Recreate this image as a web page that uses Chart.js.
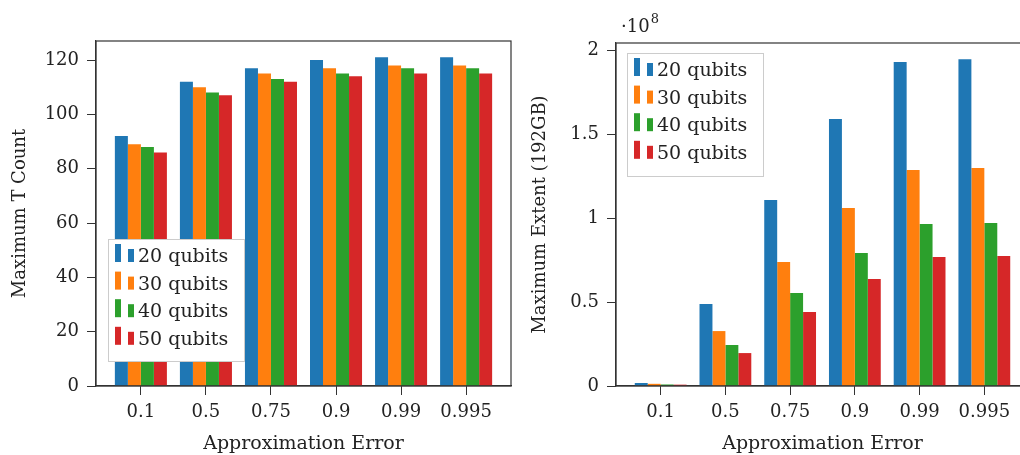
<!doctype html>
<html>

<head>
	<title>T count and extent vs approximation error</title>
	<script src="https://cdn.jsdelivr.net/npm/chart.js@4/dist/chart.umd.min.js"></script>
	<style>
	html, body { margin: 0; padding: 0; overflow: hidden; background: #fff; }
	.panel { position: absolute; top: 0; width: 520px; height: 455px; }
	</style>
</head>

<body>
	<div class="panel" style="left:0"><canvas id="left" width="520" height="455"></canvas></div>
	<div class="panel" style="left:520px"><canvas id="right" width="520" height="455"></canvas></div>
	<script>
		const categories = ['0.1', '0.5', '0.75', '0.9', '0.99', '0.995'];
		const seriesNames = ['20 qubits', '30 qubits', '40 qubits', '50 qubits'];
		const colors = ['#1f77b4', '#ff7f0e', '#2ca02c', '#d62728'];

		// Maximum T count
		const tCount20 = [92, 112, 117, 120, 121, 121];
		const tCount30 = [89, 110, 115, 117, 118, 118];
		const tCount40 = [88, 108, 113, 115, 117, 117];
		const tCount50 = [86, 107, 112, 114, 115, 115];
		const tCountTicks = [0, 20, 40, 60, 80, 100, 120];

		// Maximum extent (192GB)
		const extent20 = [1.8e6, 4.88e7, 1.107e8, 1.589e8, 1.929e8, 1.946e8];
		const extent30 = [1.3e6, 3.27e7, 7.38e7, 1.060e8, 1.286e8, 1.298e8];
		const extent40 = [0.9e6, 2.44e7, 5.54e7, 7.92e7, 9.64e7, 9.70e7];
		const extent50 = [0.8e6, 1.96e7, 4.40e7, 6.37e7, 7.68e7, 7.74e7];
		const extentTicks = [0, 0.5e8, 1e8, 1.5e8, 2e8];

		Chart.defaults.font.family = '"DejaVu Serif", serif';
		Chart.defaults.font.size = 18;
		Chart.defaults.color = '#222';

		// box around the plot area
		const frame = {
			id: 'frame',
			afterDraw(chart) {
				const a = chart.chartArea, ctx = chart.ctx;
				ctx.save();
				ctx.strokeStyle = '#333';
				ctx.lineWidth = 1.2;
				ctx.strokeRect(a.left, a.top, a.right - a.left, a.bottom - a.top);
				ctx.restore();
			}
		};

		// pgfplots-like legend with two small bars per entry
		const boxLegend = {
			id: 'boxLegend',
			afterDraw(chart, args, opts) {
				const ctx = chart.ctx;
				ctx.save();
				ctx.fillStyle = '#fff';
				ctx.fillRect(opts.x, opts.y, opts.w, opts.h);
				ctx.strokeStyle = '#ccc';
				ctx.lineWidth = 1;
				ctx.strokeRect(opts.x + 0.5, opts.y + 0.5, opts.w, opts.h);
				ctx.font = '19px "DejaVu Serif"';
				ctx.textBaseline = 'alphabetic';
				chart.data.datasets.forEach((ds, i) => {
					const base = opts.y + 23 + i * 27.6;
					ctx.fillStyle = ds.backgroundColor;
					ctx.fillRect(opts.x + 7, base - 18, 6, 18);
					ctx.fillRect(opts.x + 20, base - 13, 6, 13);
					ctx.fillStyle = '#222';
					ctx.fillText(ds.label, opts.x + 30, base);
				});
				ctx.restore();
			}
		};

		// the "·10^8" multiplier above the right axis
		const scaleLabel = {
			id: 'scaleLabel',
			afterDraw(chart, args, opts) {
				if (!opts.show) return;
				const ctx = chart.ctx;
				ctx.save();
				ctx.fillStyle = '#222';
				ctx.font = '18px "DejaVu Serif"';
				ctx.fillText('\u00b710', 101, 32);
				const w = ctx.measureText('\u00b710').width;
				ctx.font = '13px "DejaVu Serif"';
				ctx.fillText('8', 101 + w + 1, 23);
				ctx.restore();
			}
		};

		function makeDatasets(arrays) {
			return arrays.map((arr, i) => ({
				label: seriesNames[i],
				backgroundColor: colors[i],
				borderWidth: 0,
				categoryPercentage: 0.8,
				barPercentage: 1.0,
				data: arr.map((v, j) => ({x: j, y: v}))
			}));
		}

		function makeChart(id, arrays, cfg) {
			return new Chart(document.getElementById(id), {
				type: 'bar',
				data: {datasets: makeDatasets(arrays)},
				plugins: [frame, boxLegend, scaleLabel],
				options: {
					responsive: false,
					animation: false,
					layout: {padding: {left: 0, right: cfg.padRight, top: cfg.padTop, bottom: 0}},
					plugins: {
						legend: {display: false},
						tooltip: {enabled: false},
						boxLegend: cfg.legend,
						scaleLabel: {show: !!cfg.multiplier}
					},
					scales: {
						x: {
							type: 'linear',
							offset: false,
							min: -0.69,
							max: 5.69,
							afterBuildTicks: s => { s.ticks = categories.map((c, i) => ({value: i})); },
							afterFit: s => { s.height = 69; },
							ticks: {
								padding: 7,
								maxRotation: 0,
								autoSkip: false,
								callback: v => categories[v]
							},
							grid: {offset: false, drawOnChartArea: false, tickLength: 9, tickColor: '#333'},
							border: {color: '#333', width: 1.2},
							title: {display: true, text: 'Approximation Error', font: {size: 19}, padding: {top: 1, bottom: 0}}
						},
						y: {
							min: 0,
							max: cfg.yMax,
							afterBuildTicks: s => { s.ticks = cfg.ticks.map(v => ({value: v})); },
							afterFit: s => { s.width = 96; },
							ticks: {
								padding: 8,
								autoSkip: false,
								callback: v => cfg.multiplier ? String(v / cfg.multiplier) : String(v)
							},
							grid: {drawOnChartArea: false, tickLength: 9, tickColor: '#333'},
							border: {color: '#333', width: 1.2},
							title: {display: true, text: cfg.yTitle, padding: {top: 10, bottom: 0}}
						}
					}
				}
			});
		}

		makeChart('left', [tCount20, tCount30, tCount40, tCount50], {
			yMax: 127, ticks: tCountTicks, yTitle: 'Maximum T Count',
			padRight: 9, padTop: 41,
			legend: {x: 108, y: 239, w: 136, h: 122}
		});

		makeChart('right', [extent20, extent30, extent40, extent50], {
			yMax: 2.042e8, ticks: extentTicks, multiplier: 1e8, yTitle: 'Maximum Extent (192GB)',
			padRight: 11, padTop: 43,
			legend: {x: 107, y: 53, w: 136, h: 123}
		});
	</script>
</body>

</html>
